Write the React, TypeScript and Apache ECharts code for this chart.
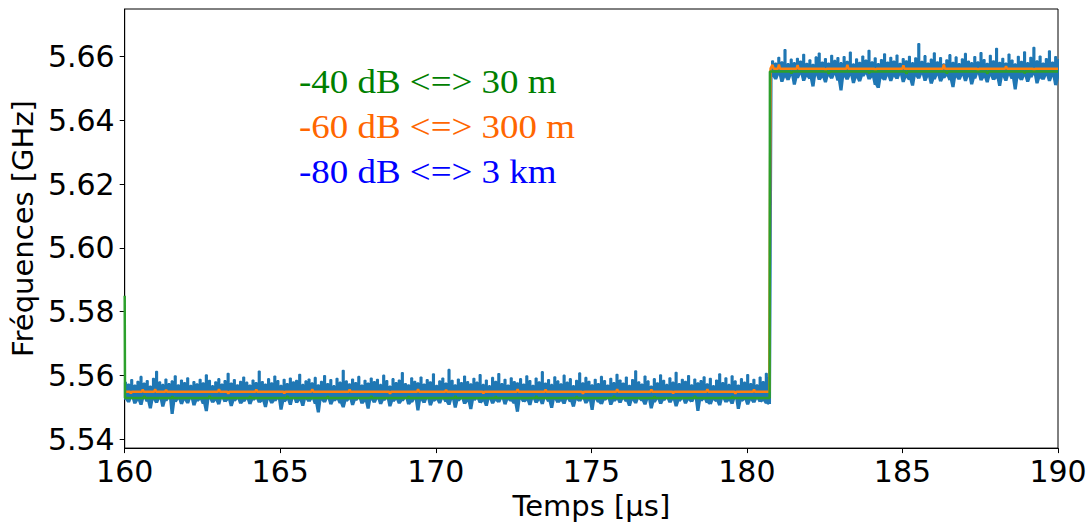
import React, { useEffect, useRef } from "react";
import * as echarts from "echarts";

// The -80 dB trace is sampled far more densely than a pixel; it is kept here as its
// per-0.1 µs envelope (highest and lowest reading in each 0.1 µs bin).
const binWidth = 0.1;
const lowStart = 160.0; // bins 160.0 .. 180.7 µs
const highStart = 180.8; // bins 180.8 .. 190.0 µs

const blueLowUpper = [
  5.5578, 5.5572, 5.5586, 5.5569, 5.5581, 5.5596, 5.5575, 5.5583, 5.5566, 5.5590, 5.5612, 5.5579, 5.5571, 5.5588, 5.5574, 5.5582, 5.5598, 5.5570, 5.5585, 5.5577,
  5.5592, 5.5568, 5.5580, 5.5573, 5.5587, 5.5576, 5.5601, 5.5584, 5.5567, 5.5579, 5.5589, 5.5572, 5.5583, 5.5606, 5.5575, 5.5586, 5.5570, 5.5581, 5.5594, 5.5578,
  5.5569, 5.5585, 5.5577, 5.5613, 5.5580, 5.5572, 5.5589, 5.5576, 5.5597, 5.5583, 5.5568, 5.5587, 5.5574, 5.5591, 5.5579, 5.5584, 5.5603, 5.5571, 5.5582, 5.5588,
  5.5576, 5.5593, 5.5570, 5.5581, 5.5599, 5.5574, 5.5586, 5.5567, 5.5590, 5.5578, 5.5615, 5.5582, 5.5573, 5.5588, 5.5577, 5.5596, 5.5569, 5.5584, 5.5575, 5.5591,
  5.5580, 5.5587, 5.5571, 5.5600, 5.5583, 5.5566, 5.5589, 5.5577, 5.5585, 5.5608, 5.5574, 5.5570, 5.5592, 5.5581, 5.5576, 5.5594, 5.5572, 5.5586, 5.5579, 5.5604,
  5.5568, 5.5582, 5.5591, 5.5575, 5.5618, 5.5584, 5.5570, 5.5588, 5.5577, 5.5597, 5.5580, 5.5573, 5.5590, 5.5578, 5.5602, 5.5571, 5.5585, 5.5567, 5.5593, 5.5581,
  5.5605, 5.5574, 5.5587, 5.5569, 5.5592, 5.5580, 5.5576, 5.5589, 5.5572, 5.5598, 5.5583, 5.5568, 5.5591, 5.5579, 5.5611, 5.5575, 5.5586, 5.5571, 5.5595, 5.5582,
  5.5573, 5.5600, 5.5578, 5.5589, 5.5567, 5.5584, 5.5607, 5.5576, 5.5593, 5.5581, 5.5570, 5.5587, 5.5574, 5.5596, 5.5583, 5.5569, 5.5590, 5.5577, 5.5603, 5.5585,
  5.5575, 5.5594, 5.5568, 5.5586, 5.5614, 5.5579, 5.5572, 5.5597, 5.5582, 5.5566, 5.5589, 5.5576, 5.5601, 5.5584, 5.5571, 5.5592, 5.5578, 5.5609, 5.5574, 5.5587,
  5.5581, 5.5599, 5.5570, 5.5588, 5.5576, 5.5583, 5.5595, 5.5573, 5.5590, 5.5567, 5.5585, 5.5604, 5.5577, 5.5592, 5.5571, 5.5598, 5.5582, 5.5569, 5.5589, 5.5578,
  5.5602, 5.5574, 5.5587, 5.5570, 5.5594, 5.5580, 5.5606, 5.5595,
];

const blueLowLower = [
  5.5524, 5.5516, 5.5529, 5.5512, 5.5521, 5.5508, 5.5527, 5.5518, 5.5497, 5.5523, 5.5514, 5.5526, 5.5502, 5.5520, 5.5528, 5.5479, 5.5517, 5.5525, 5.5510, 5.5522,
  5.5513, 5.5527, 5.5506, 5.5519, 5.5524, 5.5511, 5.5488, 5.5526, 5.5515, 5.5521, 5.5509, 5.5528, 5.5517, 5.5523, 5.5504, 5.5520, 5.5526, 5.5512, 5.5518, 5.5525,
  5.5510, 5.5522, 5.5527, 5.5515, 5.5519, 5.5501, 5.5524, 5.5513, 5.5520, 5.5526, 5.5493, 5.5517, 5.5523, 5.5508, 5.5528, 5.5514, 5.5521, 5.5505, 5.5525, 5.5518,
  5.5526, 5.5511, 5.5484, 5.5522, 5.5516, 5.5527, 5.5509, 5.5520, 5.5524, 5.5513, 5.5500, 5.5519, 5.5525, 5.5507, 5.5521, 5.5528, 5.5512, 5.5518, 5.5496, 5.5523,
  5.5515, 5.5526, 5.5510, 5.5521, 5.5527, 5.5503, 5.5518, 5.5524, 5.5512, 5.5520, 5.5528, 5.5509, 5.5516, 5.5525, 5.5490, 5.5522, 5.5514, 5.5527, 5.5506, 5.5519,
  5.5523, 5.5513, 5.5526, 5.5517, 5.5508, 5.5524, 5.5499, 5.5520, 5.5527, 5.5511, 5.5518, 5.5494, 5.5522, 5.5526, 5.5514, 5.5519, 5.5505, 5.5525, 5.5512, 5.5521,
  5.5516, 5.5527, 5.5509, 5.5523, 5.5519, 5.5512, 5.5486, 5.5525, 5.5517, 5.5521, 5.5507, 5.5526, 5.5514, 5.5522, 5.5510, 5.5528, 5.5518, 5.5498, 5.5524, 5.5515,
  5.5520, 5.5511, 5.5526, 5.5517, 5.5502, 5.5523, 5.5519, 5.5527, 5.5513, 5.5521, 5.5492, 5.5525, 5.5516, 5.5510, 5.5522, 5.5527, 5.5508, 5.5519, 5.5524, 5.5514,
  5.5526, 5.5518, 5.5505, 5.5522, 5.5513, 5.5527, 5.5520, 5.5509, 5.5524, 5.5497, 5.5516, 5.5525, 5.5511, 5.5521, 5.5528, 5.5515, 5.5523, 5.5503, 5.5519, 5.5526,
  5.5512, 5.5522, 5.5517, 5.5527, 5.5489, 5.5520, 5.5525, 5.5514, 5.5510, 5.5523, 5.5518, 5.5506, 5.5526, 5.5516, 5.5521, 5.5511, 5.5527, 5.5495, 5.5519, 5.5524,
  5.5509, 5.5522, 5.5515, 5.5526, 5.5517, 5.5520, 5.5512, 5.5510,
];

const blueHighUpper = [
  5.6586, 5.6579, 5.6597, 5.6583, 5.6621, 5.6577, 5.6591, 5.6580, 5.6594, 5.6585, 5.6606, 5.6578, 5.6589, 5.6575, 5.6598, 5.6610, 5.6582, 5.6593, 5.6579, 5.6603,
  5.6587, 5.6596, 5.6580, 5.6599, 5.6584, 5.6613, 5.6576, 5.6592, 5.6581, 5.6601, 5.6588, 5.6619, 5.6583, 5.6595, 5.6577, 5.6590, 5.6608, 5.6582, 5.6597, 5.6585,
  5.6604, 5.6578, 5.6593, 5.6586, 5.6600, 5.6580, 5.6595, 5.6640, 5.6584, 5.6602, 5.6579, 5.6591, 5.6611, 5.6583, 5.6596, 5.6576, 5.6589, 5.6605, 5.6581, 5.6598,
  5.6577, 5.6592, 5.6609, 5.6585, 5.6580, 5.6599, 5.6583, 5.6612, 5.6590, 5.6578, 5.6603, 5.6586, 5.6625, 5.6581, 5.6594, 5.6579, 5.6607, 5.6588, 5.6576, 5.6600,
  5.6584, 5.6614, 5.6580, 5.6597, 5.6628, 5.6586, 5.6601, 5.6579, 5.6593, 5.6617, 5.6582, 5.6599, 5.6590,
];

const blueHighLower = [
  5.6538, 5.6529, 5.6542, 5.6521, 5.6535, 5.6526, 5.6540, 5.6512, 5.6533, 5.6544, 5.6524, 5.6537, 5.6530, 5.6506, 5.6541, 5.6527, 5.6534, 5.6519, 5.6539, 5.6531,
  5.6543, 5.6525, 5.6494, 5.6536, 5.6528, 5.6540, 5.6517, 5.6533, 5.6522, 5.6538, 5.6545, 5.6529, 5.6535, 5.6511, 5.6502, 5.6532, 5.6526, 5.6539, 5.6523, 5.6537,
  5.6530, 5.6542, 5.6520, 5.6534, 5.6527, 5.6509, 5.6538, 5.6531, 5.6544, 5.6524, 5.6536, 5.6515, 5.6529, 5.6541, 5.6522, 5.6533, 5.6539, 5.6526, 5.6504, 5.6535,
  5.6528, 5.6540, 5.6523, 5.6537, 5.6513, 5.6531, 5.6545, 5.6525, 5.6534, 5.6519, 5.6539, 5.6527, 5.6532, 5.6508, 5.6536, 5.6524, 5.6541, 5.6530, 5.6497, 5.6533,
  5.6526, 5.6538, 5.6521, 5.6535, 5.6543, 5.6516, 5.6532, 5.6528, 5.6540, 5.6523, 5.6537, 5.6510, 5.6531,
];

// -60 dB trace: [time µs, frequency GHz]
const orangePoints = [
  [160.0, 5.5549], [160.17, 5.5549], [160.2, 5.5543], [160.23, 5.5549], [160.55, 5.5549], [160.58, 5.5556], [160.61, 5.5549],
  [160.95, 5.5549], [160.98, 5.5557], [161.01, 5.5549], [161.3, 5.5549], [161.33, 5.5555], [161.36, 5.5549],
  [163.0, 5.5549], [163.03, 5.5557], [163.06, 5.5549], [163.3, 5.5549], [163.33, 5.5542], [163.36, 5.5549],
  [164.2, 5.5549], [164.23, 5.5556], [164.26, 5.5549], [165.1, 5.5549], [165.13, 5.5543], [165.16, 5.5549],
  [166.0, 5.5549], [166.03, 5.5557], [166.06, 5.5549], [167.2, 5.5549], [167.23, 5.5556], [167.26, 5.5549],
  [168.5, 5.5549], [168.53, 5.5542], [168.56, 5.5549], [169.4, 5.5549], [169.43, 5.5557], [169.46, 5.5549],
  [170.3, 5.5549], [170.33, 5.5555], [170.36, 5.5549], [171.5, 5.5549], [171.53, 5.5543], [171.56, 5.5549],
  [172.6, 5.5549], [172.63, 5.5557], [172.66, 5.5549], [173.5, 5.5549], [173.53, 5.5556], [173.56, 5.5549],
  [174.7, 5.5549], [174.73, 5.5542], [174.76, 5.5549], [175.8, 5.5549], [175.83, 5.5557], [175.86, 5.5549],
  [176.9, 5.5549], [176.93, 5.5556], [176.96, 5.5549], [177.6, 5.5549], [177.63, 5.5543], [177.66, 5.5549],
  [178.7, 5.5549], [178.73, 5.5557], [178.76, 5.5549], [179.6, 5.5549], [179.63, 5.5542], [179.66, 5.5549],
  [180.2, 5.5549], [180.23, 5.5556], [180.26, 5.5549], [180.72, 5.5549],
  [180.76, 5.6562], [180.82, 5.6574], [180.86, 5.6562],
  [181.0, 5.6562], [181.03, 5.6575], [181.06, 5.6562], [181.6, 5.6562], [181.63, 5.6573], [181.66, 5.6562],
  [182.5, 5.6562], [182.53, 5.6555], [182.56, 5.6562], [183.2, 5.6562], [183.23, 5.6574], [183.26, 5.6562],
  [184.1, 5.6562], [184.13, 5.6554], [184.16, 5.6562], [185.0, 5.6562], [185.03, 5.6572], [185.06, 5.6562],
  [186.3, 5.6562], [186.33, 5.6575], [186.36, 5.6562], [187.4, 5.6562], [187.43, 5.6555], [187.46, 5.6562],
  [188.3, 5.6562], [188.33, 5.6570], [188.36, 5.6562], [189.2, 5.6562], [189.23, 5.6555], [189.26, 5.6562],
  [190.0, 5.6562],
];

// -40 dB trace: [time µs, frequency GHz]
const greenPoints = [
  [160.0, 5.585], [160.01, 5.5529], [160.6, 5.5529], [160.63, 5.5535], [160.66, 5.5529], [161.5, 5.5529], [161.53, 5.5534], [161.56, 5.5529],
  [162.7, 5.5529], [162.73, 5.5535], [162.76, 5.5529], [164.0, 5.5529], [164.03, 5.5534], [164.06, 5.5529],
  [165.2, 5.5529], [165.23, 5.5535], [165.26, 5.5529], [166.5, 5.5529], [166.53, 5.5534], [166.56, 5.5529],
  [167.9, 5.5529], [167.93, 5.5535], [167.96, 5.5529], [169.1, 5.5529], [169.13, 5.5534], [169.16, 5.5529],
  [170.6, 5.5529], [170.63, 5.5535], [170.66, 5.5529], [171.9, 5.5529], [171.93, 5.5534], [171.96, 5.5529],
  [173.2, 5.5529], [173.23, 5.5535], [173.26, 5.5529], [174.5, 5.5529], [174.53, 5.5534], [174.56, 5.5529],
  [175.7, 5.5529], [175.73, 5.5535], [175.76, 5.5529], [177.0, 5.5529], [177.03, 5.5534], [177.06, 5.5529],
  [178.3, 5.5529], [178.33, 5.5535], [178.36, 5.5529], [179.5, 5.5529], [179.53, 5.5534], [179.56, 5.5529],
  [180.73, 5.5529], [180.74, 5.6553],
  [181.4, 5.6553], [181.43, 5.6547], [181.46, 5.6553], [182.6, 5.6553], [182.63, 5.6546], [182.66, 5.6553],
  [183.9, 5.6553], [183.93, 5.6548], [183.96, 5.6553], [185.1, 5.6553], [185.13, 5.6546], [185.16, 5.6553],
  [186.4, 5.6553], [186.43, 5.6547], [186.46, 5.6553], [187.7, 5.6553], [187.73, 5.6546], [187.76, 5.6553],
  [188.9, 5.6553], [188.93, 5.6548], [188.96, 5.6553], [190.0, 5.6553],
];

const annotations = [
  { text: "-40 dB <=> 30 m", color: "#008000" },
  { text: "-60 dB <=> 300 m", color: "#ff6600" },
  { text: "-80 dB <=> 3 km", color: "#0000ff" },
];

const xMin = 160;
const xMax = 190;
const yMin = 5.5372;
const yMax = 5.6749;

// Each bin is drawn as a vertical stroke from its lowest to its highest reading and
// back, like a densely sampled trace looks once rasterised.
function envelopeToTrace(start: number, upper: number[], lower: number[]) {
  const out: number[][] = [];
  upper.forEach((u, i) => {
    const t = start + i * binWidth;
    out.push(
      [+t.toFixed(3), lower[i]],
      [+t.toFixed(3), u],
      [+(t + binWidth / 2).toFixed(3), u],
      [+(t + binWidth / 2).toFixed(3), lower[i]],
    );
  });
  return out;
}

export default function App() {
  const ref = useRef<HTMLDivElement>(null);

  useEffect(() => {
    if (!ref.current) return;
    const chart = echarts.init(ref.current, null, { renderer: "svg" });
    const blueData = [
      ...envelopeToTrace(lowStart, blueLowUpper, blueLowLower),
      ...envelopeToTrace(highStart, blueHighUpper, blueHighLower),
    ];
    const font = "DejaVu Sans";
    chart.setOption({
      animation: false,
      grid: {
        left: 120,
        right: 33,
        top: 9,
        bottom: 75,
        show: true,
        borderColor: "#000",
        borderWidth: 1,
        backgroundColor: "transparent",
      },
      xAxis: {
        type: "value",
        min: xMin,
        max: xMax,
        interval: 5,
        name: "Temps [µs]",
        nameLocation: "middle",
        nameGap: 40,
        nameTextStyle: { fontFamily: font, fontSize: 29, color: "#000" },
        axisLine: { show: true, lineStyle: { color: "#000", width: 1 } },
        axisTick: { show: true, inside: false, length: 5, lineStyle: { color: "#000", width: 1 } },
        axisLabel: { fontFamily: font, fontSize: 30, color: "#000", margin: 8 },
        splitLine: { show: false },
      },
      yAxis: {
        type: "value",
        min: yMin,
        max: yMax,
        splitNumber: 7,
        name: "Fréquences [GHz]",
        nameLocation: "middle",
        nameGap: 82,
        nameRotate: 90,
        nameTextStyle: { fontFamily: font, fontSize: 29, color: "#000" },
        axisLine: { show: true, lineStyle: { color: "#000", width: 1 } },
        axisTick: { show: true, inside: false, length: 5, lineStyle: { color: "#000", width: 1 } },
        axisLabel: {
          fontFamily: font,
          fontSize: 30,
          color: "#000",
          margin: 10,
          showMinLabel: false,
          showMaxLabel: false,
          formatter: (v: number) => v.toFixed(2),
        },
        splitLine: { show: false },
      },
      graphic: annotations.map((a, i) => ({
        type: "text",
        x: 299,
        y: 82.5 + i * 45,
        scaleX: 1.12,
        z: 100,
        style: {
          text: a.text,
          fill: a.color,
          fontFamily: "Liberation Serif",
          fontSize: 33,
          align: "left",
          verticalAlign: "middle",
        },
      })),
      series: [
        {
          type: "line",
          data: blueData,
          showSymbol: false,
          lineStyle: { color: "#1f77b4", width: 1.6 },
          itemStyle: { color: "#1f77b4" },
          z: 2,
        },
        {
          type: "line",
          data: orangePoints,
          showSymbol: false,
          lineStyle: { color: "#ff7f0e", width: 2.5 },
          itemStyle: { color: "#ff7f0e" },
          z: 3,
        },
        {
          type: "line",
          data: greenPoints,
          showSymbol: false,
          lineStyle: { color: "#2ca02c", width: 2.5 },
          itemStyle: { color: "#2ca02c" },
          z: 4,
        },
      ],
    });
    return () => chart.dispose();
  }, []);

  return (
    <div
      ref={ref}
      style={{ position: "fixed", left: 0, top: 0, width: 1091, height: 525, background: "#fff" }}
    />
  );
}
